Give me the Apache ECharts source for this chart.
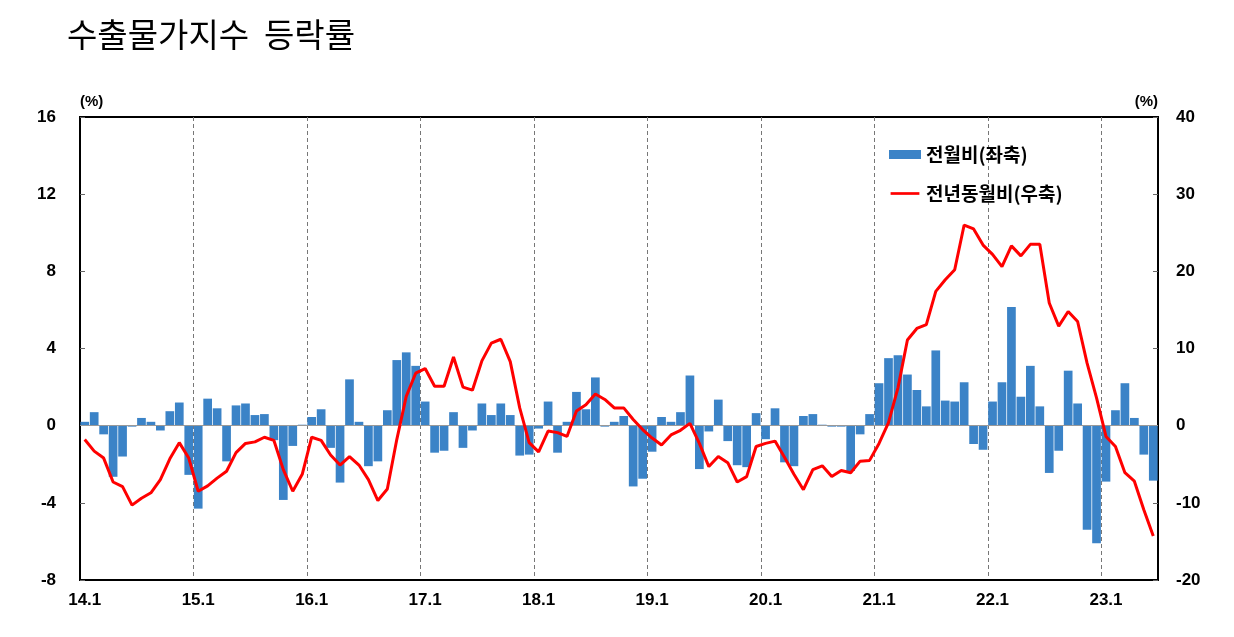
<!DOCTYPE html>
<html style="height: 100%">
<head>
<meta charset="UTF-8">
<script src="https://cdn.jsdelivr.net/npm/echarts@6/dist/echarts.min.js"></script>
</head>
<body style="height: 100%; margin: 0; background: #fff">
<div id="container" style="width: 1234px; height: 637px"></div>
<script type="text/javascript">
// monthly, 2014.1 ~ 2023.6
var years = [14, 15, 16, 17, 18, 19, 20, 21, 22, 23];
var lastMonth = 6;

// 전월비 (%), left axis
var momData = [
  0.2, 0.7, -0.45, -2.65, -1.6, -0.05, 0.4, 0.2, -0.25, 0.75, 1.2, -2.55,
  -4.3, 1.4, 0.9, -1.85, 1.05, 1.15, 0.55, 0.6, -0.75, -3.85, -1.05, 0.05,
  0.45, 0.85, -1.15, -2.95, 2.4, 0.2, -2.1, -1.85, 0.8, 3.4, 3.8, 3.1,
  1.25, -1.4, -1.3, 0.7, -1.15, -0.25, 1.15, 0.55, 1.15, 0.55, -1.55, -1.5,
  -0.15, 1.25, -1.4, 0.2, 1.75, 0.85, 2.5, -0.05, 0.2, 0.5, -3.15, -2.75,
  -1.35, 0.45, 0.2, 0.7, 2.6, -2.25, -0.3, 1.35, -0.8, -2.05, -2.15, 0.65,
  -0.7, 0.9, -1.9, -2.1, 0.5, 0.6, 0.05, -0.05, -0.05, -2.35, -0.45, 0.6,
  2.2, 3.5, 3.65, 2.65, 1.85, 1.0, 3.9, 1.3, 1.25, 2.25, -0.95, -1.25,
  1.25, 2.25, 6.15, 1.5, 3.1, 1.0, -2.45, -1.3, 2.85, 1.15, -5.4, -6.1,
  -2.9, 0.8, 2.2, 0.4, -1.5, -2.85
];

// 전년동월비 (%), right axis
var yoyData = [
  -1.8, -3.3, -4.2, -7.3, -7.9, -10.3, -9.4, -8.7, -7.0, -4.3, -2.2, -4.2,
  -8.5, -7.8, -6.8, -5.9, -3.5, -2.3, -2.1, -1.5, -1.9, -5.7, -8.5, -6.3,
  -1.5, -1.9, -3.8, -5.1, -4.0, -5.1, -7.0, -9.7, -8.2, -1.8, 3.8, 6.8,
  7.4, 5.1, 5.1, 8.9, 5.0, 4.6, 8.4, 10.7, 11.2, 8.3, 2.3, -2.2,
  -3.4, -0.7, -0.9, -1.4, 1.9, 2.7, 4.1, 3.4, 2.3, 2.3, 0.8, -0.5,
  -1.6, -2.5, -1.2, -0.6, 0.3, -2.3, -5.3, -4.0, -4.8, -7.3, -6.6, -2.7,
  -2.3, -2.0, -4.1, -6.3, -8.3, -5.7, -5.2, -6.6, -5.8, -6.1, -4.6, -4.5,
  -2.3, 0.4, 4.9, 11.1, 12.6, 13.1, 17.4, 18.9, 20.2, 26.0, 25.5, 23.4,
  22.2, 20.6, 23.3, 22.0, 23.5, 23.5, 15.9, 12.9, 14.8, 13.5, 8.1, 3.6,
  -1.4, -2.7, -6.1, -7.2, -10.9, -14.3
];

var leftTicks = { min: -8, max: 16, interval: 4 };
var rightTicks = { min: -20, max: 40, interval: 10 };

var categories = [];
for (var y = 0; y < years.length; y++) {
  var mEnd = (y === years.length - 1) ? lastMonth : 12;
  for (var m = 1; m <= mEnd; m++) {
    categories.push(years[y] + '.' + m);
  }
}

var numFont = '"Liberation Sans", Arial, sans-serif';
var krFont = '"Noto Sans CJK KR", sans-serif';
// thin line legend icon (empty moveTo points keep the box full height)
var lineIcon = 'path://M0,0 M0,3.5 L32,3.5 L32,6.5 L0,6.5 Z M32,10';

var myChart = echarts.init(document.getElementById('container'));
var option = {
  backgroundColor: '#fff',
  animation: false,
  title: {
    text: '수출물가지수  등락률',
    left: 62,
    top: 13,
    textStyle: { fontFamily: krFont, fontSize: 33, fontWeight: 'normal', color: '#000' }
  },
  legend: {
    orient: 'vertical',
    left: 884,
    top: 140,
    itemWidth: 32,
    itemHeight: 9,
    itemGap: 20,
    textStyle: { fontFamily: krFont, fontSize: 19, fontWeight: 'bold', color: '#000' },
    data: [
      { name: '전월비(좌축)', icon: 'rect' },
      { name: '전년동월비(우축)', icon: lineIcon }
    ]
  },
  grid: {
    left: 80, right: 76, top: 117, bottom: 57,
    show: true, borderColor: '#000', borderWidth: 2
  },
  xAxis: {
    type: 'category',
    data: categories,
    boundaryGap: true,
    axisLine: { onZero: false, lineStyle: { color: '#000', width: 2 } },
    axisTick: { show: false },
    axisLabel: {
      interval: function (index) { return index % 12 === 0; },
      margin: 12,
      fontFamily: numFont, fontSize: 17, fontWeight: 'bold', color: '#000'
    },
    splitLine: {
      show: true,
      interval: function (index) { return index % 12 === 0 && index > 0; },
      lineStyle: { color: '#777', width: 1, type: [4, 3] }
    }
  },
  yAxis: [
    {
      type: 'value',
      min: leftTicks.min, max: leftTicks.max, interval: leftTicks.interval,
      name: '(%)',
      nameLocation: 'end',
      nameGap: 8,
      nameTextStyle: { align: 'left', fontFamily: numFont, fontSize: 15, fontWeight: 'bold', color: '#000' },
      axisLine: { show: true, lineStyle: { color: '#000', width: 2 } },
      axisTick: { show: true, inside: true, length: 5, lineStyle: { color: '#666' } },
      axisLabel: { margin: 24, fontFamily: numFont, fontSize: 17, fontWeight: 'bold', color: '#000' },
      splitLine: { show: false }
    },
    {
      type: 'value',
      min: rightTicks.min, max: rightTicks.max, interval: rightTicks.interval,
      name: '(%)',
      nameLocation: 'end',
      nameGap: 8,
      nameTextStyle: { align: 'right', fontFamily: numFont, fontSize: 15, fontWeight: 'bold', color: '#000' },
      axisLine: { show: true, lineStyle: { color: '#000', width: 2 } },
      axisTick: { show: true, inside: true, length: 5, lineStyle: { color: '#666' } },
      axisLabel: { margin: 18, fontFamily: numFont, fontSize: 17, fontWeight: 'bold', color: '#000' },
      splitLine: { show: false }
    }
  ],
  series: [
    {
      name: '전월비(좌축)',
      type: 'bar',
      yAxisIndex: 0,
      data: momData,
      barCategoryGap: '8%',
      itemStyle: { color: '#3b83c7' },
      markLine: {
        silent: true,
        symbol: 'none',
        label: { show: false },
        lineStyle: { color: '#999', width: 1, type: 'solid' },
        data: [{ yAxis: 0 }]
      }
    },
    {
      name: '전년동월비(우축)',
      type: 'line',
      yAxisIndex: 1,
      data: yoyData,
      symbol: 'none',
      lineStyle: { color: '#ff0000', width: 3 },
      itemStyle: { color: '#ff0000' },
      z: 5
    }
  ]
};
myChart.setOption(option);
</script>
</body>
</html>
